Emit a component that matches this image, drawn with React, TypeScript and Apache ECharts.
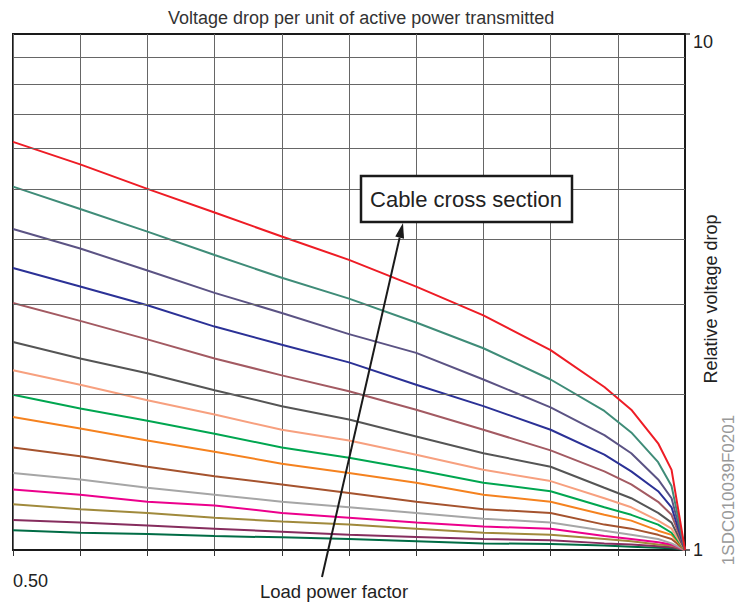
import React, { useEffect, useRef } from "react";
import * as echarts from "echarts";

const powerFactor = [0.5, 0.55, 0.6, 0.65, 0.7, 0.75, 0.8, 0.85, 0.9, 0.94, 0.96, 0.98, 0.99, 1.0];

const red = [6.18, 5.59, 5.01, 4.51, 4.05, 3.65, 3.24, 2.85, 2.44, 2.07, 1.87, 1.61, 1.43, 1];
const teal = [5.06, 4.58, 4.14, 3.73, 3.37, 3.07, 2.76, 2.46, 2.14, 1.86, 1.69, 1.48, 1.33, 1];
const slate = [4.19, 3.84, 3.48, 3.15, 2.88, 2.62, 2.41, 2.14, 1.89, 1.67, 1.54, 1.37, 1.26, 1];
const blue = [3.52, 3.24, 2.98, 2.71, 2.5, 2.31, 2.09, 1.9, 1.71, 1.53, 1.42, 1.3, 1.21, 1];
const mauve = [3.01, 2.78, 2.56, 2.35, 2.18, 2.03, 1.87, 1.71, 1.56, 1.42, 1.34, 1.24, 1.17, 1];
const darkGray = [2.53, 2.35, 2.2, 2.04, 1.9, 1.79, 1.66, 1.54, 1.45, 1.32, 1.26, 1.18, 1.13, 1];
const salmon = [2.23, 2.09, 1.95, 1.83, 1.71, 1.63, 1.53, 1.43, 1.36, 1.26, 1.21, 1.14, 1.1, 1];
const green = [2.0, 1.88, 1.78, 1.68, 1.58, 1.51, 1.43, 1.35, 1.3, 1.21, 1.17, 1.12, 1.08, 1];
const orange = [1.81, 1.72, 1.63, 1.55, 1.47, 1.41, 1.35, 1.28, 1.24, 1.17, 1.14, 1.09, 1.07, 1];
const brown = [1.58, 1.52, 1.45, 1.39, 1.34, 1.29, 1.24, 1.2, 1.18, 1.12, 1.1, 1.07, 1.05, 1];
const lightGray = [1.41, 1.37, 1.32, 1.28, 1.24, 1.21, 1.18, 1.15, 1.13, 1.09, 1.07, 1.05, 1.03, 1];
const magenta = [1.31, 1.28, 1.24, 1.22, 1.18, 1.155, 1.13, 1.11, 1.1, 1.065, 1.05, 1.035, 1.025, 1];
const olive = [1.226, 1.2, 1.18, 1.155, 1.135, 1.12, 1.1, 1.08, 1.07, 1.05, 1.04, 1.025, 1.02, 1];
const plum = [1.143, 1.13, 1.115, 1.1, 1.085, 1.07, 1.06, 1.05, 1.045, 1.03, 1.025, 1.017, 1.012, 1];
const darkGreen = [1.092, 1.08, 1.074, 1.064, 1.058, 1.05, 1.04, 1.03, 1.027, 1.02, 1.015, 1.01, 1.008, 1];

const curves = [
  { values: darkGreen, color: "#006c45" },
  { values: plum, color: "#862d5e" },
  { values: olive, color: "#a08a3c" },
  { values: magenta, color: "#ec008c" },
  { values: lightGray, color: "#a6a6a6" },
  { values: brown, color: "#a5532e" },
  { values: orange, color: "#f5821f" },
  { values: green, color: "#00a650" },
  { values: salmon, color: "#f7a07f" },
  { values: darkGray, color: "#555555" },
  { values: mauve, color: "#a35a62" },
  { values: blue, color: "#2b3196" },
  { values: slate, color: "#5b5384" },
  { values: teal, color: "#3f8c78" },
  { values: red, color: "#ee1c25" },
];

const minorGridValues = [2, 3, 4, 5, 6, 7, 8, 9];
const xLabelShown = [0.5];

const FONT = "'Liberation Sans', Arial, Helvetica, sans-serif";

export default function App() {
  const ref = useRef<HTMLDivElement>(null);
  useEffect(() => {
    document.body.style.margin = "0";
    const chart = echarts.init(ref.current!, null, { renderer: "svg" });
    const series: any[] = [
      {
        type: "line",
        data: [],
        silent: true,
        z: 1,
        markLine: {
          silent: true,
          symbol: ["none", "none"],
          label: { show: false },
          lineStyle: { color: "#666", width: 1, type: "solid" },
          data: minorGridValues.map((v) => ({ yAxis: v })),
        },
      },
    ];
    curves.forEach((c) => {
      series.push({
        type: "line",
        data: powerFactor.map((p, i) => [p, c.values[i]]),
        symbol: "none",
        smooth: false,
        z: 3,
        lineStyle: { color: c.color, width: 2 },
        itemStyle: { color: c.color },
      });
    });

    // arrow geometry (annotation)
    const tip = [403, 223];
    const tail = [322, 577];
    const dx = tip[0] - tail[0];
    const dy = tip[1] - tail[1];
    const len = Math.sqrt(dx * dx + dy * dy);
    const ux = dx / len;
    const uy = dy / len;
    const headLen = 15;
    const headW = 4.5;
    const bx = tip[0] - headLen * ux;
    const by = tip[1] - headLen * uy;
    const px = -uy * headW;
    const py = ux * headW;

    chart.setOption({
      animation: false,
      backgroundColor: "#fff",
      title: {
        text: "Voltage drop per unit of active power transmitted",
        left: 163,
        top: 4,
        textStyle: { fontFamily: FONT, fontSize: 18, fontWeight: "normal", color: "#333" },
      },
      grid: {
        left: 13,
        right: 53,
        top: 34,
        bottom: 53,
        containLabel: false,
        outerBoundsMode: "none",
        show: true,
        borderColor: "#1a1a1a",
        borderWidth: 2,
        backgroundColor: "transparent",
      },
      xAxis: {
        type: "value",
        min: 0.5,
        max: 1.0,
        interval: 0.05,
        name: "Load power factor",
        nameLocation: "middle",
        nameGap: 32,
        nameMoveOverlap: false,
        nameTextStyle: { fontFamily: FONT, fontSize: 18.5, color: "#222", padding: [0, 30, 0, 0] },
        axisLine: { show: true, lineStyle: { color: "#1a1a1a", width: 2 } },
        axisTick: { show: true, inside: false, length: 6, lineStyle: { color: "#333", width: 1 } },
        axisLabel: {
          show: true,
          align: "left",
          margin: 22,
          fontFamily: FONT,
          fontSize: 18,
          color: "#222",
          formatter: (v: number) => (xLabelShown.some((s) => Math.abs(s - v) < 1e-6) ? v.toFixed(2) : ""),
        },
        splitLine: { show: true, lineStyle: { color: "#666", width: 1 } },
      },
      yAxis: {
        type: "log",
        logBase: 10,
        min: 1,
        max: 10,
        position: "right",
        name: "Relative voltage drop",
        nameLocation: "middle",
        nameRotate: 90,
        nameGap: 17,
        nameMoveOverlap: false,
        nameTextStyle: { fontFamily: FONT, fontSize: 18, color: "#222", padding: [0, 14, 0, 0] },
        axisLine: { show: true, lineStyle: { color: "#1a1a1a", width: 2 } },
        axisTick: { show: true, inside: false, length: 5, lineStyle: { color: "#333", width: 1.5 } },
        axisLabel: {
          show: true,
          margin: 8,
          fontFamily: FONT,
          fontSize: 18,
          color: "#222",
          formatter: (v: number) => (v >= 10 ? "{top|10}" : String(v)),
          rich: { top: { fontFamily: FONT, fontSize: 18, color: "#222", padding: [16, 0, 0, 0] } },
        },
        splitLine: { show: false },
        minorTick: { show: false },
      },
      graphic: [
        {
          type: "rect",
          shape: { x: 361, y: 176, width: 211, height: 46 },
          style: { fill: "#fff", stroke: "#1a1a1a", lineWidth: 2.5 },
          z: 10,
        },
        {
          type: "text",
          x: 466,
          y: 199,
          style: {
            text: "Cable cross section",
            fontFamily: FONT,
            fontSize: 22,
            fill: "#222",
            align: "center",
            verticalAlign: "middle",
          },
          z: 11,
        },
        {
          type: "line",
          shape: { x1: tail[0], y1: tail[1], x2: bx, y2: by },
          style: { stroke: "#1a1a1a", lineWidth: 2 },
          z: 10,
        },
        {
          type: "polygon",
          shape: {
            points: [
              [tip[0], tip[1]],
              [bx + px, by + py],
              [bx - px, by - py],
            ],
          },
          style: { fill: "#1a1a1a" },
          z: 10,
        },
        {
          type: "text",
          x: 728,
          y: 490,
          rotation: Math.PI / 2,
          style: {
            text: "1SDC010039F0201",
            fontFamily: FONT,
            fontSize: 17,
            fill: "#999",
            align: "center",
            verticalAlign: "middle",
          },
        },
      ],
      series,
    });
    return () => chart.dispose();
  }, []);
  return <div ref={ref} style={{ width: 738, height: 603 }} />;
}
